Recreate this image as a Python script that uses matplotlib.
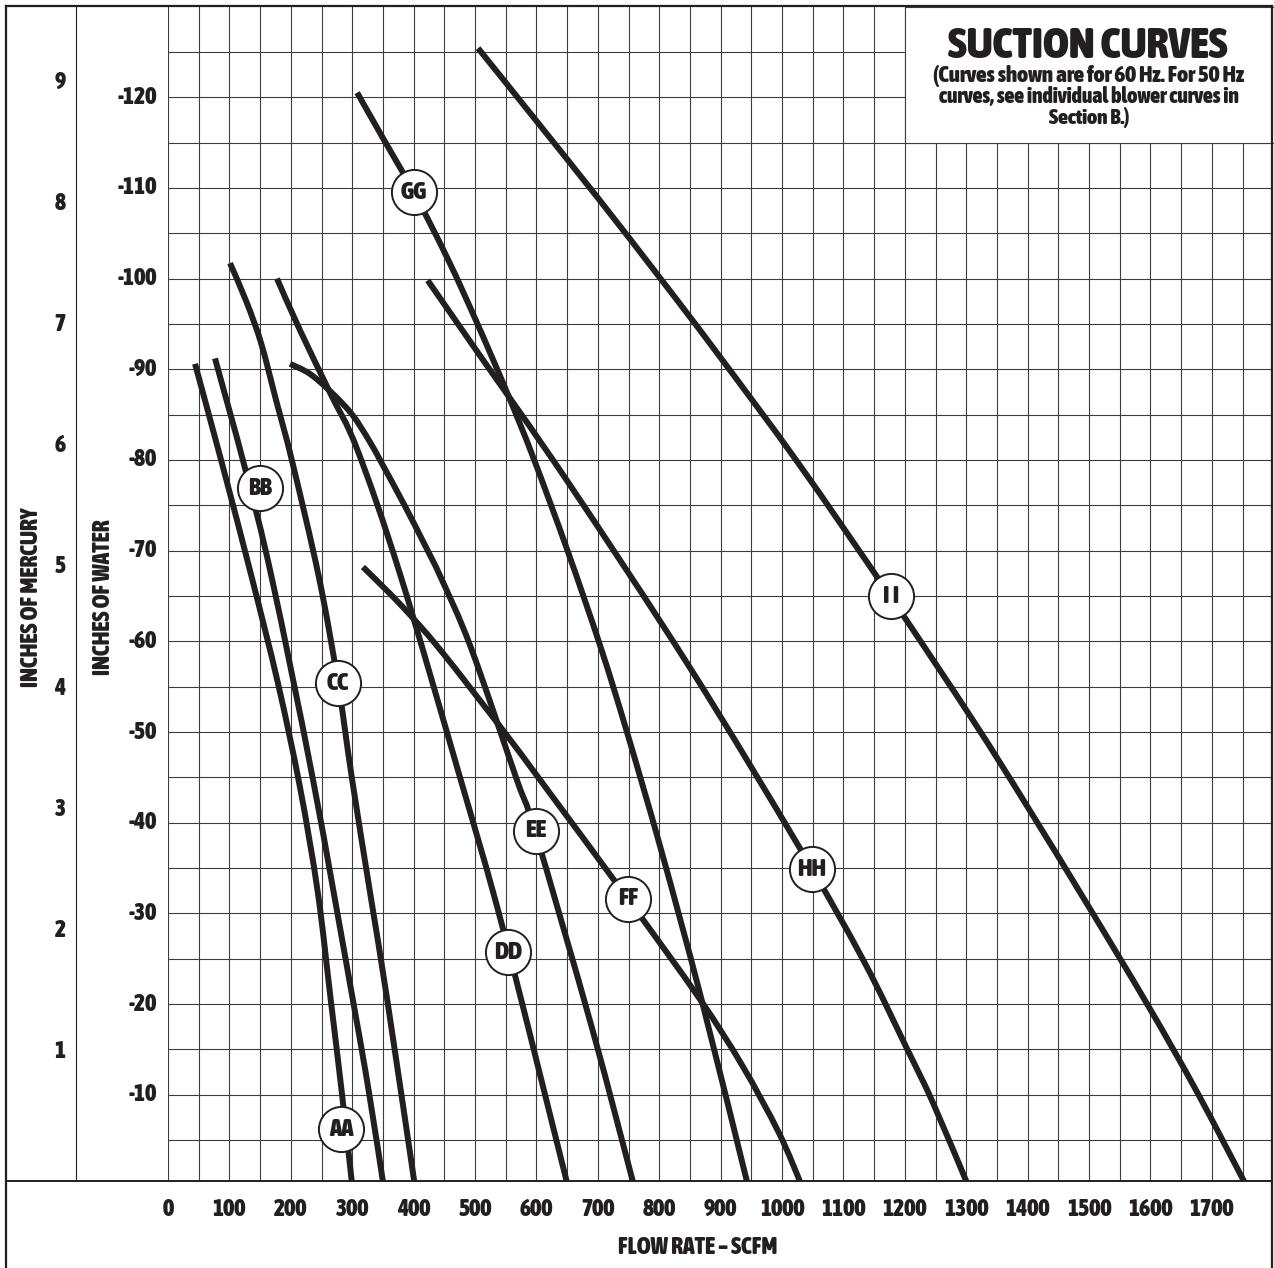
import matplotlib
matplotlib.use("Agg")
import matplotlib.pyplot as plt
from matplotlib import font_manager as fm
from matplotlib.font_manager import FontProperties
from matplotlib.transforms import blended_transform_factory as btf
from matplotlib.patches import Rectangle, PathPatch
from matplotlib.path import Path
from matplotlib.lines import Line2D

# ---------------- data (SCFM, inches of water) ----------------
AA_x = [44, 88, 137, 179, 215, 244, 265, 283, 300]
AA_y = [-90.6, -79.6, -66.9, -55.4, -43.9, -32.3, -20.5, -10.3, 0]

BB_x = [76.5, 125, 169, 236, 301, 327, 351]
BB_y = [-91.2, -79.2, -67.0, -44.8, -20.5, -10.4, 0]

CC_x = [101, 128, 152, 176, 202, 246, 277, 300, 331, 357, 402]
CC_y = [-101.7, -97.4, -92.8, -86.6, -79.9, -67.0, -55.4, -44.7, -31.5, -20.5, 0]

DD_x = [177.5, 215, 264, 308, 378, 476, 546, 651]
DD_y = [-100.0, -94.3, -87.4, -81.2, -67.4, -44.9, -28.2, 0]

EE_x = [198.7, 231, 267, 300, 327, 348.5, 386, 418.5, 444.6, 493.4, 568.3, 597.6, 690.4, 758.8]
EE_y = [-90.6, -89.5, -87.4, -85.0, -82.2, -79.6, -74.9, -70.6, -67.0, -59.3, -44.7, -39.1, -17.4, 0]

FF_x = [317.5, 378, 443, 545.5, 610.6, 749, 864.7, 934.7, 995, 1032]
FF_y = [-68.2, -64.1, -59.1, -50.2, -44.3, -31.6, -20.7, -13.3, -5.8, 0]

GG_x = [308, 350, 400.6, 456.8, 504, 553, 594.7, 650.7, 704.9, 747.9, 803.1, 868.2, 944.5]
GG_y = [-120.5, -115.5, -109.5, -102.0, -95.0, -87.3, -80.3, -70.0, -59.3, -49.9, -37.0, -20.7, 0]

HH_x = [423, 503, 650, 850, 1029, 1132, 1202, 1246, 1303]
HH_y = [-99.8, -92.0, -77.7, -57.1, -37.2, -24.9, -15.3, -9.1, 0]

II_x = [505, 601, 700, 801, 892, 1027, 1176, 1309, 1399.5, 1499, 1596.5, 1676, 1756]
II_y = [-125.4, -117.3, -108.9, -100.1, -92.0, -79.6, -65.0, -51.5, -41.8, -30.8, -19.8, -10.3, 0]

curve_names = ["AA", "BB", "CC", "DD", "EE", "FF", "GG", "HH", "I I"]
curves_x = [AA_x, BB_x, CC_x, DD_x, EE_x, FF_x, GG_x, HH_x, II_x]
curves_y = [AA_y, BB_y, CC_y, DD_y, EE_y, FF_y, GG_y, HH_y, II_y]
label_x = [282, 150, 277, 554, 599, 749, 401, 1049, 1177]
label_y = [-6.2, -76.9, -55.4, -25.7, -39.1, -31.6, -109.5, -34.9, -65.0]

x_ticks = [0, 100, 200, 300, 400, 500, 600, 700, 800, 900, 1000,
           1100, 1200, 1300, 1400, 1500, 1600, 1700]
water_ticks = [-10, -20, -30, -40, -50, -60, -70, -80, -90, -100, -110, -120]
mercury_ticks = [1, 2, 3, 4, 5, 6, 7, 8, 9]

title = "SUCTION CURVES"
subtitle = ["(Curves shown are for 60 Hz. For 50 Hz",
            "curves, see individual blower curves in",
            "Section B.)"]
xlabel = "FLOW RATE \u2013 SCFM"
ylabel_water = "INCHES OF WATER"
ylabel_hg = "INCHES OF MERCURY"

# ---------------- font: prefer a bold narrow / condensed face ----------------
def _num_weight(w):
    if isinstance(w, (int, float)):
        return w
    return {"bold": 700, "heavy": 800, "black": 900, "semibold": 600,
            "demibold": 600, "extra bold": 800}.get(str(w).lower(), 400)

def _is_narrow(f):
    st = f.stretch
    if isinstance(st, (int, float)):
        narrow_st = st <= 87
    else:
        narrow_st = str(st).lower() in ("condensed", "semi-condensed",
                                        "extra-condensed", "ultra-condensed")
    return narrow_st or "Narrow" in f.name or "Condensed" in f.name

best = None
for f in fm.fontManager.ttflist:
    if not _is_narrow(f) or _num_weight(f.weight) < 600:
        continue
    if f.style != "normal":
        continue
    rank = 0 if "DejaVu" not in f.name else 1
    if best is None or rank < best[0]:
        best = (rank, f.fname)

if best is not None:
    FP = FontProperties(fname=best[1])
else:
    FP = FontProperties(family="DejaVu Sans", weight="bold", stretch="condensed")

def fp(size):
    p = FP.copy()
    p.set_size(size)
    return p

INK = "#231f20"
GRID = "#3c3c3c"
W, H = 1274, 1268

fig = plt.figure(figsize=(W / 100, H / 100), dpi=100)
fig.patch.set_facecolor("white")
renderer = fig.canvas.get_renderer()

def fx(px):
    return px / W

def fy(py):
    return 1 - py / H

AX_L, AX_R, AX_T, AX_B = 168, 1272, 6.5, 1181
ax = fig.add_axes([fx(AX_L), fy(AX_B), (AX_R - AX_L) / W, (AX_B - AX_T) / H])
ax.set_xlim(0, 1798)
ax.set_ylim(-0.5, -130)
ax.axis("off")

# grid
for gx in range(0, 1800, 50):
    ax.plot([gx, gx], [-0.5, -130], color=GRID, lw=0.8, zorder=1)
for gy in range(-5, -130, -5):
    ax.plot([0, 1798], [gy, gy], color=GRID, lw=0.8, zorder=1)

# title box (covers grid)
ax.add_patch(Rectangle((1200, -130), 640, 15, facecolor="white",
                       edgecolor=GRID, lw=0.8, zorder=2, clip_on=False))

# smooth curves through the read points (Catmull-Rom as cubic Beziers)
def smooth_path(xs, ys):
    pts = list(zip(xs, ys))
    n = len(pts)
    verts = [pts[0]]
    codes = [Path.MOVETO]
    for i in range(n - 1):
        p0 = pts[i - 1] if i > 0 else pts[i]
        p1 = pts[i]
        p2 = pts[i + 1]
        p3 = pts[i + 2] if i + 2 < n else pts[i + 1]
        c1 = (p1[0] + (p2[0] - p0[0]) / 6.0, p1[1] + (p2[1] - p0[1]) / 6.0)
        c2 = (p2[0] - (p3[0] - p1[0]) / 6.0, p2[1] - (p3[1] - p1[1]) / 6.0)
        verts += [c1, c2, p2]
        codes += [Path.CURVE4] * 3
    return Path(verts, codes)

for cxs, cys in zip(curves_x, curves_y):
    ax.add_patch(PathPatch(smooth_path(cxs, cys), facecolor="none",
                           edgecolor=INK, lw=4.3, capstyle="butt",
                           joinstyle="round", zorder=3))

# labels in circles
for name, lx, ly in zip(curve_names, label_x, label_y):
    ax.plot([lx], [ly], marker="o", ms=32.5, mfc="white", mec=INK, mew=1.4,
            zorder=4, linestyle="none")
    ax.text(lx, ly, name, ha="center", va="center", color=INK, zorder=5,
            fontproperties=fp(18))

# frame lines (figure level)
def fline(x0, y0, x1, y1, lw):
    fig.add_artist(Line2D([fx(x0), fx(x1)], [fy(y0), fy(y1)], color=INK,
                          lw=lw, solid_capstyle="projecting"))

fline(6, 6, 1272, 6, 1.6)        # top border
fline(6, 6, 6, 1268, 1.6)        # left border
fline(1272, 6, 1272, 1268, 1.6)  # right border
fline(76, 6, 76, AX_B, 0.8)      # separator
fline(6, AX_B, 1272, AX_B, 1.4)  # bottom line of plot

# tick labels
tr_water = btf(fig.transFigure, ax.transData)
for wv in water_ticks:
    ax.text(fx(157), wv, f"{wv}", transform=tr_water, ha="right", va="center",
            color=INK, fontproperties=fp(17))
for hv in mercury_ticks:
    ax.text(fx(60), -(13.36 * hv + 1.4), f"{hv}", transform=tr_water,
            ha="center", va="center", color=INK, fontproperties=fp(17))

tr_x = btf(ax.transData, fig.transFigure)
for xv in x_ticks:
    ax.text(xv, fy(1210), f"{xv}", transform=tr_x, ha="center", va="center",
            color=INK, fontproperties=fp(17))

def fitted_text(cx, cy, s, size, target_len, rotation=0, max_size=None):
    t = fig.text(fx(cx), fy(cy), s, ha="center", va="center", color=INK,
                 rotation=rotation, fontproperties=fp(size))
    ext = t.get_window_extent(renderer=renderer)
    length = ext.height if rotation else ext.width
    if length > 0:
        new = size * target_len / length
        if max_size is not None:
            new = min(new, max_size)
        t.set_fontproperties(fp(new))
    return t

fitted_text(698, 1247, xlabel, 13.5, 183, max_size=17)
fitted_text(103, 597, ylabel_water, 13.5, 165, rotation=90, max_size=17)
fitted_text(32, 597, ylabel_hg, 13.5, 185, rotation=90, max_size=17)

# title, fitted to the widths measured on the reference
fitted_text(1088, 46, title, 26, 280)
sub_w = [312, 302, 81]
for i, line in enumerate(subtitle):
    fitted_text(1089, 76 + 20.5 * i, line, 12.5, sub_w[i])

fig.savefig("out.png", dpi=100, facecolor="white")
